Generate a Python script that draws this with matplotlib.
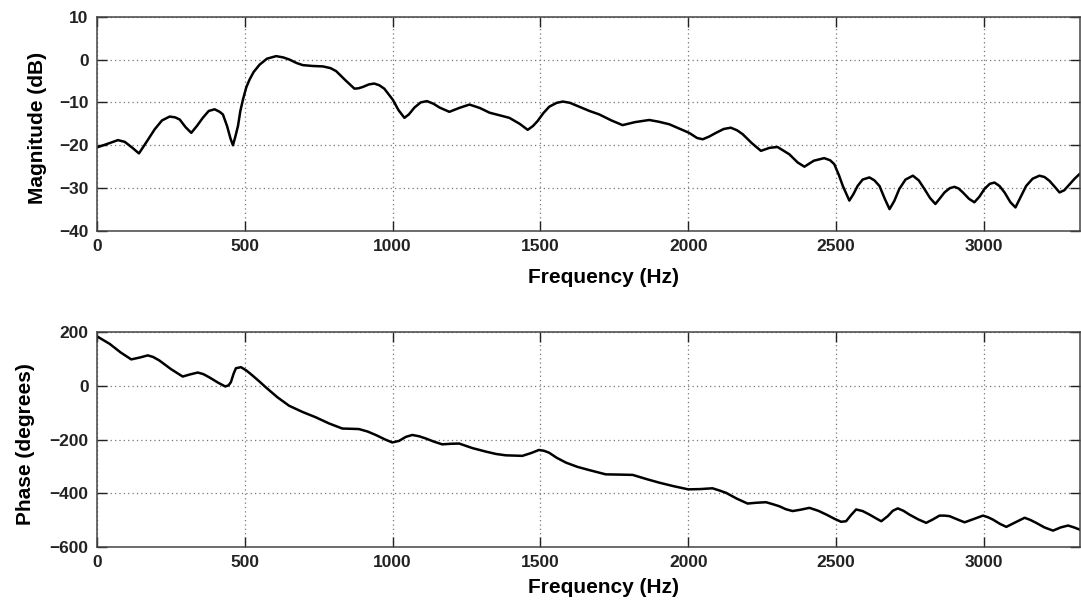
import matplotlib
matplotlib.use("Agg")
import matplotlib.pyplot as plt

# values
mag_freq = [0, 30, 71, 94, 120, 142, 165, 195, 220, 246, 265, 280, 300, 319, 338, 358,
            378, 398, 415, 426, 440, 452, 460, 468, 477, 485, 494, 505, 516, 530, 550,
            575, 606, 630, 651, 675, 696, 730, 764, 790, 809, 840, 871, 885, 899, 920,
            938, 955, 972, 1000, 1020, 1040, 1055, 1074, 1095, 1116, 1138, 1159, 1192,
            1225, 1260, 1295, 1328, 1395, 1430, 1457, 1475, 1491, 1510, 1530, 1555,
            1576, 1600, 1621, 1666, 1699, 1740, 1778, 1820, 1868, 1900, 1936, 2003,
            2030, 2049, 2070, 2094, 2120, 2144, 2165, 2184, 2215, 2246, 2275, 2302,
            2342, 2370, 2393, 2425, 2460, 2480, 2494, 2510, 2523, 2545, 2558, 2573,
            2590, 2613, 2630, 2647, 2665, 2681, 2697, 2714, 2735, 2760, 2780, 2799,
            2818, 2836, 2850, 2867, 2885, 2901, 2915, 2929, 2950, 2968, 2985, 3002,
            3020, 3036, 3053, 3070, 3090, 3107, 3125, 3143, 3165, 3188, 3205, 3222,
            3240, 3256, 3272, 3290, 3307, 3324]
mag_db = [-20.5, -19.8, -18.8, -19.2, -20.6, -21.9, -19.5, -16.3, -14.2, -13.3, -13.5,
          -14.0, -15.8, -17.1, -15.5, -13.6, -12.0, -11.6, -12.2, -12.8, -15.5, -18.5,
          -20.0, -18.0, -15.5, -12.0, -9.3, -6.5, -4.7, -2.9, -1.2, 0.2, 0.8, 0.5, 0.0,
          -0.8, -1.3, -1.5, -1.6, -2.0, -2.7, -4.8, -6.8, -6.7, -6.4, -5.8, -5.6, -6.0,
          -6.8, -9.3, -11.8, -13.6, -12.8, -11.2, -10.0, -9.7, -10.3, -11.2, -12.2,
          -11.3, -10.5, -11.3, -12.4, -13.6, -15.0, -16.4, -15.5, -14.3, -12.5, -11.0,
          -10.1, -9.8, -10.1, -10.7, -12.0, -12.8, -14.2, -15.3, -14.6, -14.1, -14.5,
          -15.1, -17.1, -18.3, -18.6, -18.0, -17.1, -16.2, -15.9, -16.5, -17.4, -19.5,
          -21.3, -20.6, -20.4, -22.1, -24.0, -25.0, -23.6, -23.0, -23.5, -24.4, -27.0,
          -29.5, -32.9, -31.5, -29.5, -28.0, -27.5, -28.2, -29.5, -32.5, -34.9, -33.0,
          -30.2, -28.0, -27.1, -28.2, -30.2, -32.3, -33.7, -32.5, -31.0, -30.0, -29.7,
          -30.1, -31.0, -32.5, -33.3, -32.0, -30.2, -29.0, -28.7, -29.5, -31.0, -33.3,
          -34.5, -32.0, -29.5, -27.8, -27.1, -27.4, -28.3, -29.7, -31.0, -30.5, -29.1,
          -27.8, -26.7]

ph_freq = [0, 20, 43, 80, 116, 145, 172, 190, 211, 250, 290, 315, 341, 360, 380, 410,
           434, 445, 453, 462, 470, 487, 505, 526, 550, 571, 610, 650, 695, 740, 785,
           830, 860, 886, 915, 943, 975, 999, 1022, 1045, 1067, 1090, 1112, 1140, 1168,
           1195, 1225, 1270, 1315, 1350, 1383, 1439, 1470, 1495, 1512, 1529, 1555,
           1586, 1625, 1665, 1721, 1770, 1812, 1860, 1902, 1950, 2000, 2040, 2082,
           2105, 2128, 2165, 2201, 2230, 2263, 2285, 2308, 2330, 2353, 2380, 2410,
           2440, 2467, 2495, 2517, 2534, 2550, 2568, 2590, 2613, 2635, 2653, 2675,
           2692, 2709, 2728, 2748, 2778, 2805, 2828, 2850, 2867, 2884, 2910, 2935,
           2965, 2997, 3014, 3031, 3055, 3076, 3105, 3138, 3157, 3177, 3205, 3234,
           3260, 3285, 3305, 3324]
ph_deg = [185, 172, 157, 125, 99, 106, 114, 108, 95, 63, 35, 43, 50, 44, 32, 12, -2, 2,
          14, 45, 66, 70, 58, 39, 16, -5, -42, -74, -97, -117, -140, -159, -160, -161,
          -170, -183, -200, -211, -205, -190, -183, -188, -196, -208, -218, -216, -215,
          -232, -245, -254, -259, -261, -250, -239, -242, -249, -268, -286, -302, -314,
          -330, -331, -332, -348, -361, -374, -386, -385, -382, -390, -399, -421, -439,
          -436, -434, -441, -449, -460, -467, -462, -455, -466, -480, -496, -507, -505,
          -483, -461, -467, -480, -494, -505, -486, -466, -457, -466, -480, -498, -511,
          -498, -484, -484, -486, -498, -509, -497, -484, -490, -499, -515, -526, -510,
          -492, -500, -511, -528, -540, -528, -521, -528, -536]

x_ticks = [0, 500, 1000, 1500, 2000, 2500, 3000]
x_max = 3325

plt.rcParams['font.family'] = ['Liberation Sans', 'DejaVu Sans']
plt.rcParams['font.weight'] = 'bold'

fig = plt.figure(figsize=(10.81, 6.09), dpi=100)
ax1 = fig.add_axes([0.0897, 0.6207, 0.9093, 0.3519])
ax2 = fig.add_axes([0.0897, 0.1023, 0.9093, 0.3520])


def style(ax, yticks, ylabel, label_x, label_y):
    ax.set_xlim(0, x_max)
    ax.set_ylim(yticks[0], yticks[-1])
    ax.set_xticks(x_ticks)
    ax.set_yticks(yticks)
    ax.tick_params(direction='in', length=7, width=1, top=True, right=True,
                   labelsize=12.5, pad=6, colors='#222222')
    for s in ax.spines.values():
        s.set_linewidth(1.1)
        s.set_color('#444444')
    ax.grid(True, linestyle=(0, (1, 2.5)), color='#777777', linewidth=0.9)
    ax.set_xlabel('Frequency (Hz)', fontsize=15, fontweight='bold')
    ax.xaxis.set_label_coords(0.515, label_y)
    ax.set_ylabel(ylabel, fontsize=15, fontweight='bold')
    ax.yaxis.set_label_coords(label_x, 0.48)


ax1.plot(mag_freq, mag_db, color='black', linewidth=1.8, solid_joinstyle='round')
style(ax1, [-40, -30, -20, -10, 0, 10], 'Magnitude (dB)', -0.051, -0.175)

ax2.plot(ph_freq, ph_deg, color='black', linewidth=1.8, solid_joinstyle='round')
style(ax2, [-600, -400, -200, 0, 200], 'Phase (degrees)', -0.063, -0.148)

fig.savefig('out.png', dpi=100)
